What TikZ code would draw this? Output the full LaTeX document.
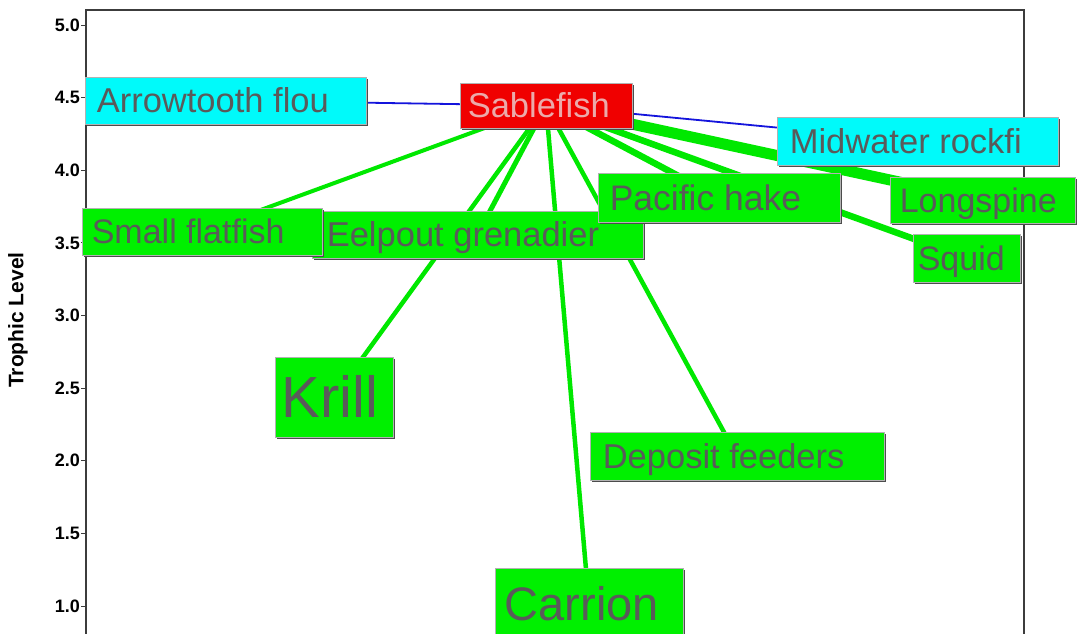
\documentclass[tikz,border=0pt]{standalone}
\usepackage{fontspec}
\setmainfont{Liberation Sans}
\usetikzlibrary{shadows,backgrounds,calc}
\definecolor{fwgreen}{RGB}{0,240,0}
\definecolor{fwline}{RGB}{0,232,0}
\definecolor{fwcyan}{RGB}{0,250,250}
\definecolor{fwred}{RGB}{240,0,0}
\definecolor{fwtxt}{RGB}{90,90,90}
\definecolor{fwsabtxt}{RGB}{235,170,170}
\definecolor{fwblue}{RGB}{20,20,220}
\definecolor{fwaxis}{RGB}{60,60,60}
\tikzset{
  fwnode/.style={draw=gray!60, line width=0.8pt, inner sep=0pt,
    drop shadow={shadow xshift=1.5pt, shadow yshift=-1.5pt, fill=black!70, opacity=1}},
  fwtext/.style={inner sep=0pt, text=fwtxt},
  eat/.style={draw=fwline},
  pred/.style={draw=fwblue, line width=1.8pt},
  fwtick/.style={draw=fwaxis, line width=1pt},
  ticklab/.style={font=\fontsize{18pt}{18pt}\selectfont\bfseries, anchor=east, inner sep=0pt, text=black},
  frame/.style={draw=fwaxis, line width=1.2pt}
}
% name, cx, cy, width, height, fill, text, xoffset, fontsize
\newcommand\fwbox[9]{%
  \node[fwnode, fill=#6, minimum width=#4pt, minimum height=#5pt] (#1) at (#2,#3) {};
  \node[fwtext, font=\fontsize{#9pt}{#9pt}\selectfont, anchor=base west] (#1t)
    at ($(#1.west)+(#8,{0.358*#9})$) {#7};
}
\begin{document}
\begin{tikzpicture}[x=1pt,y=-1pt]
\useasboundingbox (0,0) rectangle (1077,633);
% background and frame (behind boxes)
\begin{pgfonlayer}{background}
  \fill[white] (0,0) rectangle (1077,633);
  \draw[frame] (86,640) coordinate (bl) -- (86,10) coordinate (tl) -- (1024,10) coordinate (tr) -- (1024,640) coordinate (br);
\end{pgfonlayer}
\foreach \v/\lab [count=\i] in {5/5.0,4.5/4.5,4/4.0,3.5/3.5,3/3.0,2.5/2.5,2/2.0,1.5/1.5,1/1.0}{
  \coordinate (t\i) at (86,{606-(\v-1)*145.25});
  \draw[fwtick] (t\i) -- ++(-5,0);
  \node[ticklab] (l\i) at ($(t\i)+(-6,0)$) {\lab};
}
\node[rotate=90, font=\fontsize{21pt}{21pt}\selectfont\bfseries, inner sep=0pt] (ylab) at (18,320) {Trophic Level};

% boxes
\fwbox{arrow}{225.5}{100.5}{281}{47}{fwcyan}{Arrowtooth flou}{12}{34.5}
\fwbox{sable}{546}{105.5}{172}{45}{fwred}{\textcolor{fwsabtxt}{Sablefish}}{8}{34.5}
\fwbox{mid}{917.5}{141}{281}{48}{fwcyan}{Midwater rockfi}{13}{34.5}
\fwbox{eel}{477.5}{234.5}{331}{47}{fwgreen}{Eelpout grenadier}{15}{34.5}
\fwbox{small}{202}{231.5}{240}{47}{fwgreen}{Small flatfish}{10}{34}
\fwbox{hake}{719}{197.5}{242}{49}{fwgreen}{Pacific hake}{12}{35.5}
\fwbox{long}{982.5}{200}{185}{46}{fwgreen}{Longspine}{10}{34}
\fwbox{squid}{966.5}{258}{107}{48}{fwgreen}{Squid}{5}{34}
\fwbox{krill}{334}{397}{118}{80}{fwgreen}{Krill}{7}{58}
\fwbox{dep}{737}{456}{294}{48}{fwgreen}{Deposit feeders}{13}{34.5}
\fwbox{carrion}{589}{604}{188}{72}{fwgreen}{Carrion}{10}{47}

% links (behind boxes)
\begin{pgfonlayer}{background}
  \draw[eat, line width=4pt] (sable.center) -- (small.center);
  \draw[eat, line width=4.5pt] (sable.center) -- (krill.center);
  \draw[eat, line width=5pt] (sable.center) -- (eel.center);
  \draw[eat, line width=4.5pt] (sable.center) -- (carrion.center);
  \draw[eat, line width=4.5pt] (sable.center) -- (dep.center);
  \draw[eat, line width=6.5pt] (sable.center) -- (hake.center);
  \draw[eat, line width=6.5pt] (sable.center) -- (squid.center);
  \draw[eat, line width=11pt] (sable.center) -- (long.center);
  \draw[pred] (arrow.center) -- (sable.center);
  \draw[pred] (sable.center) -- (mid.center);
\end{pgfonlayer}
\end{tikzpicture}
\end{document}
